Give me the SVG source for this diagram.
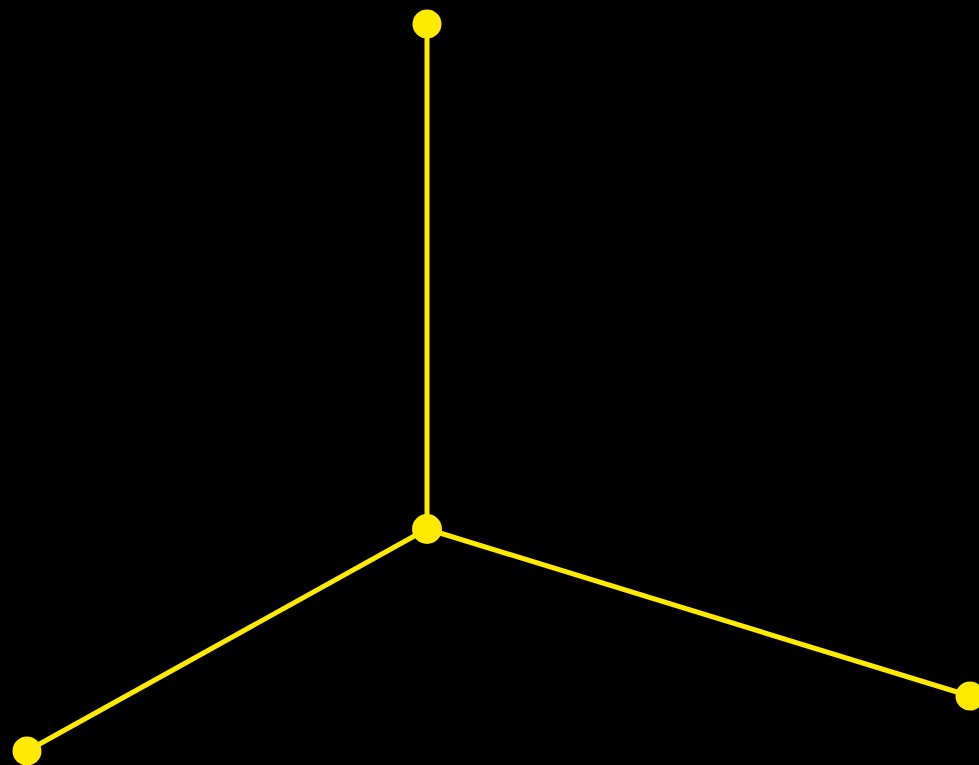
<svg xmlns="http://www.w3.org/2000/svg" width="979" height="765" viewBox="0 0 979 765">
<style>
.edge{stroke:#ffea00;stroke-width:5;stroke-linecap:round;fill:none}
.node{fill:#ffea00}
</style>
<rect width="979" height="765" fill="#000"/>
<g id="connectors">
<line class="edge" x1="427" y1="529" x2="427" y2="24"/>
<line class="edge" x1="427" y1="529" x2="27" y2="751"/>
<line class="edge" x1="427" y1="529" x2="970" y2="696"/>
</g>
<g id="top"><circle class="node" cx="427" cy="24" r="14.5"/></g>
<g id="center"><circle class="node" cx="427" cy="529" r="15"/></g>
<g id="left"><circle class="node" cx="27" cy="751" r="14.5"/></g>
<g id="right"><circle class="node" cx="970" cy="696" r="14.5"/></g>
</svg>
